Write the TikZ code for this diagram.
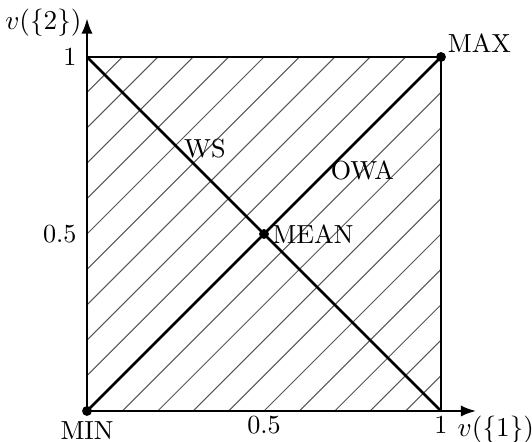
\documentclass[tikz,border=0pt]{standalone}
\usepackage{tikz}
\usetikzlibrary{positioning, arrows.meta, calc}
\definecolor{hatchgray}{HTML}{555555}

\tikzset{
  axisline/.style={line width=1.1pt, -{Latex[length=2.2mm, width=1.6mm]}},
  diagline/.style={line width=1.1pt},
  hatchline/.style={line width=0.4pt, hatchgray},
  corner/.style={circle, fill=black, inner sep=0pt, minimum size=1.4mm},
  lbl/.style={font=\fontsize{10.5}{12}\selectfont, inner sep=2pt}
}

\begin{document}
\begin{tikzpicture}[x=5cm, y=5cm]
    \useasboundingbox (-0.2458,-0.0876) rectangle (1.2571,1.161);
    \coordinate (O) at (0,0);
    \coordinate (A) at (1,0);
    \coordinate (B) at (0,1);
    \coordinate (C) at (1,1);
    \coordinate (xend) at (1.1,0);
    \coordinate (yend) at (0,1.11);
    % hatching
    \foreach \k in {1,...,9} {
      \draw[hatchline] (\k/10,0) -- (1,1-\k/10);
      \draw[hatchline] (0,\k/10) -- (1-\k/10,1);
    }
    \draw[line width=0.9pt] (A) -- (C) -- (B);
    \draw[diagline] (O) -- (C);
    \draw[diagline] (B) -- (A);
    \draw[axisline] (O) -- (xend);
    \draw[axisline] (O) -- (yend);
    \node[corner] (min) at (O) {};
    \node[corner] (max) at (C) {};
    \node[corner] (mean) at (0.5,0.5) {};
    % labels
    \node[lbl, below=0pt of min] {MIN};
    \node[lbl, above right=-2pt and -1pt of max] {MAX};
    \node[lbl, right=-1pt of mean] {MEAN};
    \node[lbl] (ws) at (0.333,0.74) {WS};
    \node[lbl] (owa) at (0.778,0.68) {OWA};
    \node[lbl, anchor=east] at (0,1.098) {$v(\{2\})$};
    \node[lbl] at (1.155,-0.054) {$v(\{1\})$};
    \node[lbl, below=0pt] at (A) {1};
    \node[lbl, below=0pt] at (0.5,0) {0.5};
    \node[lbl, left=2pt] at (B) {1};
    \node[lbl, left=2pt] at (0,0.5) {0.5};
  \end{tikzpicture}
\end{document}
